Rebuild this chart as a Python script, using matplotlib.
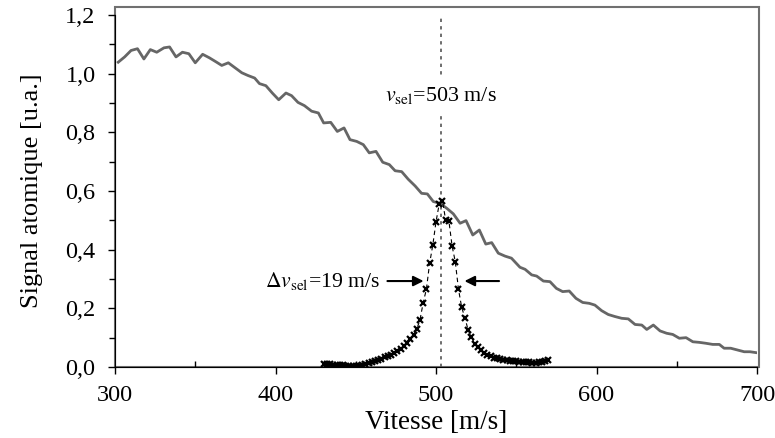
import matplotlib
matplotlib.use('Agg')
import matplotlib.pyplot as plt
from matplotlib.patches import Rectangle
from matplotlib.ticker import MultipleLocator, FuncFormatter

plt.rcParams['font.family'] = ['Liberation Serif', 'DejaVu Serif']
plt.rcParams['mathtext.fontset'] = 'stix'

# signal atomique (courbe grise)
v_signal = [302, 306, 310, 314, 318, 322, 326, 330.5, 334, 338, 342, 346, 350, 354.6,
            358.8, 363, 366.5, 370.6, 374.8, 379, 382.7, 387, 390, 394, 398, 402,
            406.5, 410, 414, 418, 422.5, 426.7, 430, 434.4, 438.5, 442.7, 446.4,
            450.6, 454.7, 458.4, 462.6, 466.8, 470.9, 474.5, 478.6, 482.7, 487, 491,
            494.6, 498.3, 502.5, 506.7, 510.8, 515, 518.7, 522.9, 527, 531, 534.7,
            538.8, 543, 547, 552.3, 555.5, 559.6, 562.7, 566.9, 571, 575, 578.9, 583,
            587.2, 591.4, 595.5, 599, 603.2, 607.3, 611.5, 615.7, 619.8, 624, 628.2,
            631.3, 635.4, 639.6, 643.7, 647.5, 651.6, 655.8, 660, 664, 668, 672.4,
            676.5, 679.5, 683.6, 687.8, 692, 695.6, 699.4]
s_signal = [1.039, 1.057, 1.079, 1.085, 1.05, 1.082, 1.073, 1.088, 1.091, 1.057, 1.073,
            1.068, 1.037, 1.066, 1.054, 1.04, 1.028, 1.037, 1.02, 1.003, 0.994, 0.985,
            0.966, 0.959, 0.934, 0.911, 0.934, 0.925, 0.902, 0.891, 0.872, 0.866,
            0.832, 0.834, 0.803, 0.815, 0.775, 0.769, 0.758, 0.730, 0.735, 0.698,
            0.690, 0.669, 0.666, 0.640, 0.617, 0.592, 0.590, 0.564, 0.558, 0.541,
            0.522, 0.490, 0.499, 0.450, 0.467, 0.419, 0.424, 0.388, 0.378, 0.371,
            0.340, 0.333, 0.314, 0.310, 0.293, 0.291, 0.268, 0.257, 0.259, 0.234,
            0.220, 0.217, 0.211, 0.192, 0.179, 0.172, 0.166, 0.164, 0.145, 0.143,
            0.128, 0.143, 0.123, 0.115, 0.111, 0.098, 0.100, 0.086, 0.084, 0.081,
            0.077, 0.077, 0.064, 0.064, 0.058, 0.052, 0.052, 0.049]

# pic de selection (croix)
v_peak = list(range(430, 571, 2))
s_peak = [0.010, 0.010, 0.009, 0.008, 0.008, 0.007, 0.006, 0.005, 0.004, 0.004,
          0.003, 0.004, 0.006, 0.009, 0.013, 0.016, 0.020, 0.024, 0.028, 0.033,
          0.037, 0.042, 0.048, 0.055, 0.063, 0.072, 0.083, 0.094, 0.110, 0.130,
          0.160, 0.219, 0.265, 0.353, 0.416, 0.495, 0.556, 0.567, 0.501, 0.499,
          0.413, 0.359, 0.265, 0.203, 0.168, 0.126, 0.103, 0.080, 0.068, 0.058,
          0.049, 0.042, 0.036, 0.032, 0.029, 0.027, 0.025, 0.024, 0.022, 0.021,
          0.019, 0.018, 0.017, 0.016, 0.016, 0.015, 0.015, 0.016, 0.018, 0.020,
          0.024]

v_sel = 503
dv_sel = 19

fig = plt.figure(figsize=(7.75, 4.38), dpi=100)
ax = fig.add_axes([0.1484, 0.1621, 0.8284, 0.8037])

ax.axvline(v_sel, color='#555555', ls=(0, (2, 2.5)), lw=1.2, zorder=1)
ax.plot(v_signal, s_signal, color='#666666', lw=2, zorder=2)
ax.plot(v_peak, s_peak, color='black', ls=(0, (4, 3)), lw=0.8, zorder=3)
ax.plot(v_peak, s_peak, ls='none', marker='x', color='black', ms=4, mew=1.6, zorder=4)

ax.text(v_sel, 0.927, r'$\mathit{v}_{\mathrm{sel}}$=503 m/s', ha='center', va='center',
        fontsize=15.8, zorder=5,
        bbox=dict(facecolor='white', edgecolor='none', pad=5))
ax.text(465, 0.293, r'$\Delta\mathit{v}_{\mathrm{sel}}$=19 m/s', ha='right', va='center',
        fontsize=15.6, zorder=5)
ax.annotate('', xy=(v_sel - dv_sel / 2 + 0.5, 0.293), xytext=(468, 0.293),
            arrowprops=dict(arrowstyle='-|>', color='black', lw=1.5, mutation_scale=15))
ax.annotate('', xy=(v_sel + dv_sel / 2 + 3.5, 0.293), xytext=(541, 0.293),
            arrowprops=dict(arrowstyle='-|>', color='black', lw=1.5, mutation_scale=15))

ax.set_xlim(300, 700)
ax.set_ylim(0, 1.2)
ax.xaxis.set_major_locator(MultipleLocator(100))
ax.xaxis.set_minor_locator(MultipleLocator(50))
ax.yaxis.set_major_locator(MultipleLocator(0.2))
ax.yaxis.set_minor_locator(MultipleLocator(0.1))
ax.yaxis.set_major_formatter(FuncFormatter(lambda y, p: f'{y:.1f}'.replace('.', ',')))
ax.tick_params(axis='both', which='major', labelsize=17.5, direction='out', length=5,
               width=1, pad=8)
ax.tick_params(axis='y', which='major', pad=9)
ax.tick_params(axis='x', which='minor', direction='in', length=4, width=1)
ax.tick_params(axis='y', which='minor', direction='out', length=4, width=1)

for s in ['top', 'right']:
    ax.spines[s].set_visible(False)
ax.add_patch(Rectangle((0, 0), 1.003, 1.0227, transform=ax.transAxes, fill=False,
                       edgecolor='#707070', lw=1.5, clip_on=False, zorder=0))

ax.set_xlabel('Vitesse [m/s]', fontsize=19.5, labelpad=3)
ax.set_ylabel('Signal atomique [u.a.]', fontsize=19, labelpad=16)

fig.savefig('out.png', dpi=100)
